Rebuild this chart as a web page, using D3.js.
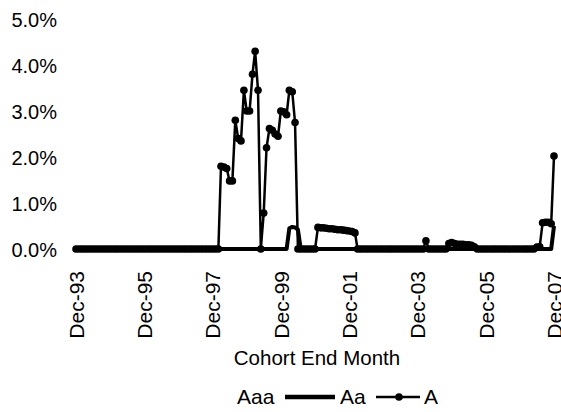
<!DOCTYPE html>
<html>
<head>
<meta charset="utf-8">
<script src="https://cdn.jsdelivr.net/npm/d3@7"></script>
<style>
  html, body { margin: 0; padding: 0; background: #fff; }
  svg text { font-family: "Liberation Sans", Arial, sans-serif; fill: #000; }
</style>
</head>
<body>
<svg id="chart" width="561" height="412"></svg>
<script>
// ---- data (percent values, one per month, Dec-93 .. Dec-07) ----
const startMonth = "1993-12";
const endMonth = "2007-12";
const tickLabels = ["Dec-93","Dec-95","Dec-97","Dec-99","Dec-01","Dec-03","Dec-05","Dec-07"];
const seriesNames = ["Aaa", "Aa", "A"];

const aaaValues = [
  0,0,0,0,0,0,0,0,0,0,0,0,0,0,0,0,0,0,0,0,
  0,0,0,0,0,0,0,0,0,0,0,0,0,0,0,0,0,0,0,0,
  0,0,0,0,0,0,0,0,0,0,0,0,0,0,0,0,0,0,0,0,
  0,0,0,0,0,0,0,0,0,0,0,0,0,0,0,0,0,0,0,0,
  0,0,0,0,0,0,0,0,0,0,0,0,0,0,0,0,0,0,0,0,
  0,0,0,0,0,0,0,0,0,0,0,0,0,0,0,0,0,0,0,0,
  0,0,0,0,0,0,0,0,0,0,0,0,0,0,0,0,0,0,0,0,
  0,0,0,0,0,0,0,0,0,0,0,0,0,0,0,0,0,0,0,0,
  0,0,0,0,0,0,0,0,0
];

const aaValues = [
  0,0,0,0,0,0,0,0,0,0,0,0,0,0,0,0,0,0,0,0,
  0,0,0,0,0,0,0,0,0,0,0,0,0,0,0,0,0,0,0,0,
  0,0,0,0,0,0,0,0,0,0,0,0,0,0,0,0,0,0,0,0,
  0,0,0,0,0,0,0,0,0,0,0,0,0,0,0,0.45,0.48,0.47,0.42,0,
  0,0,0,0,0,0,0,0,0,0,0,0,0,0,0,0,0,0,0,0,
  0,0,0,0,0,0,0,0,0,0,0,0,0,0,0,0,0,0,0,0,
  0,0,0,0,0,0,0,0,0,0,0,0,0,0,0,0,0,0,0,0,
  0,0,0,0,0,0,0,0,0,0,0,0,0,0,0,0,0,0,0,0,
  0,0,0,0,0,0,0,0,0.50
];

const aValues = [
  0,0,0,0,0,0,0,0,0,0,0,0,0,0,0,0,0,0,0,0,
  0,0,0,0,0,0,0,0,0,0,0,0,0,0,0,0,0,0,0,0,
  0,0,0,0,0,0,0,0,0,0,0,1.80,1.78,1.75,1.48,1.48,2.80,2.40,2.35,3.45,
  3.00,3.00,3.80,4.30,3.45,0,0.78,2.20,2.62,2.58,2.50,2.45,3.00,2.98,2.92,3.45,3.42,2.75,0,0,
  0,0,0,0,0,0.47,0.46,0.46,0.45,0.44,0.44,0.43,0.42,0.42,0.41,0.40,0.39,0.38,0.35,0,
  0,0,0,0,0,0,0,0,0,0,0,0,0,0,0,0,0,0,0,0,
  0,0,0,0.18,0,0,0,0,0,0,0,0.12,0.14,0.12,0.10,0.10,0.10,0.09,0.09,0.08,
  0.05,0,0,0,0,0,0,0,0,0,0,0,0,0,0,0,0,0,0,0,
  0,0,0.04,0.05,0.57,0.58,0.58,0.55,2.02
];

const yTicks = [0, 1, 2, 3, 4, 5];

// ---- layout ----
const svg = d3.select("#chart");
const parseM = d3.timeParse("%Y-%m");
const months = d3.timeMonth.range(parseM(startMonth), d3.timeMonth.offset(parseM(endMonth), 1));

const x = d3.scaleTime().domain([months[0], months[months.length - 1]]).range([76, 554]);
const y = d3.scaleLinear().domain([0, 5]).range([249, 19]);

// y axis labels
const yAxis = d3.axisLeft(y).tickValues(yTicks).tickFormat(d => d.toFixed(1) + "%").tickSize(0).tickPadding(0);
const gy = svg.append("g").attr("transform", "translate(57,0)").call(yAxis);
gy.select(".domain").remove();
gy.selectAll("text").style("font-size", "20px").attr("dy", "0.35em").style("font-family", "'Liberation Sans', Arial, sans-serif");

// x axis labels
const fmt = d3.timeFormat("%b-%y");
const tickDates = months.filter(m => tickLabels.includes(fmt(m)));
const xAxis = d3.axisBottom(x).tickValues(tickDates).tickFormat(fmt).tickSize(0).tickPadding(0);
const gx = svg.append("g").attr("transform", "translate(0,271)").call(xAxis);
gx.select(".domain").remove();
gx.selectAll("text")
  .style("font-size", "21px")
  .style("font-family", "'Liberation Sans', Arial, sans-serif")
  .attr("transform", "rotate(-90)")
  .attr("text-anchor", "end")
  .attr("x", 0)
  .attr("y", 0)
  .attr("dx", 0)
  .attr("dy", "0.35em");

// axis title
svg.append("text").attr("x", 317).attr("y", 365).attr("text-anchor", "middle")
  .style("font-size", "20.5px").text("Cohort End Month");

// series
const line = d3.line().x((d, i) => x(months[i])).y(d => y(d));

svg.append("path").datum(aaaValues).attr("d", line)
  .attr("fill", "none").attr("stroke", "#fff").attr("stroke-width", 3);

svg.append("path").datum(aaValues).attr("d", line)
  .attr("fill", "none").attr("stroke", "#000").attr("stroke-width", 4).attr("stroke-linejoin", "round");

svg.append("path").datum(aValues).attr("d", line)
  .attr("fill", "none").attr("stroke", "#000").attr("stroke-width", 2.5).attr("stroke-linejoin", "round");

svg.append("g").selectAll("circle").data(aValues).join("circle")
  .attr("cx", (d, i) => x(months[i])).attr("cy", d => y(d)).attr("r", 3.8).attr("fill", "#000");

// legend
const lg = svg.append("g").attr("transform", "translate(0,397)");
lg.append("text").attr("x", 237).attr("y", 0).attr("dy", "0.35em").style("font-size", "21px").text(seriesNames[0]);
lg.append("line").attr("x1", 285).attr("x2", 335).attr("y1", 0).attr("y2", 0).attr("stroke", "#000").attr("stroke-width", 4.5);
lg.append("text").attr("x", 340).attr("y", 0).attr("dy", "0.35em").style("font-size", "21px").text(seriesNames[1]);
lg.append("line").attr("x1", 376).attr("x2", 420).attr("y1", 0).attr("y2", 0).attr("stroke", "#000").attr("stroke-width", 2.5);
lg.append("circle").attr("cx", 399).attr("cy", 0).attr("r", 3.8).attr("fill", "#000");
lg.append("text").attr("x", 424).attr("y", 0).attr("dy", "0.35em").style("font-size", "21px").text(seriesNames[2]);
</script>
</body>
</html>
